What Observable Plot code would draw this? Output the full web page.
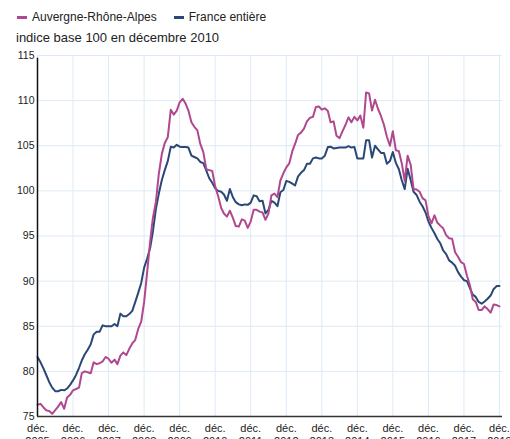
<!DOCTYPE html>
<html>
<head>
<meta charset="utf-8">
<script src="https://cdn.jsdelivr.net/npm/d3@7"></script>
<script src="https://cdn.jsdelivr.net/npm/@observablehq/plot@0.6"></script>
<style>
  body { margin: 0; background: #fff; font-family: "Liberation Sans", Arial, sans-serif; width: 510px; height: 439px; overflow: hidden; position: relative; }
  .legend { position: absolute; left: 17px; top: 10px; font-size: 12px; color: #222; display: flex; gap: 0; white-space: nowrap; }
  .legend .item { display: flex; align-items: center; }
  .legend .sw { display: inline-block; width: 10px; height: 3px; margin-right: 5px; }
  .sub { position: absolute; left: 16px; top: 30px; font-size: 13px; color: #222; white-space: nowrap; }
  #chart { position: absolute; left: 0; top: 48px; }
</style>
</head>
<body>
<div class="legend" id="legend"></div>
<div class="sub">indice base 100 en décembre 2010</div>
<div id="chart"></div>
<script>
// Series names and colours
const seriesNames = ["Auvergne-Rhône-Alpes", "France entière"];
const seriesColors = ["#b0488f", "#2a4775"];

// Monthly values, déc. 2005 to déc. 2018
const auvergne = [
  76.3, 76.4, 76.0, 75.7, 75.6, 75.3, 75.7, 76.1, 76.6, 75.85, 77.1, 77.4,
  77.9, 78.05, 78.2, 79.8, 80.0, 79.9, 79.8, 81.0, 80.8, 80.9, 81.1, 81.6,
  81.4, 80.95, 81.3, 80.8, 81.75, 82.1, 81.8, 82.5, 83.1, 83.5, 84.7, 85.5,
  87.7, 91.0, 94.4, 97.0, 98.8, 101.9, 104.1, 105.3, 105.95, 109.0, 108.45, 108.9,
  109.8, 110.2, 109.65, 108.9, 107.6, 107.1, 106.7, 105.2, 104.3, 102.4, 102.3, 102.2,
  100.5, 99.4, 98.1, 97.5, 97.15, 97.8, 97.0, 96.1, 96.05, 96.85, 96.7, 95.9,
  96.6, 97.9, 97.9, 97.7, 97.6, 96.8, 97.5, 99.5, 99.7, 99.3, 101.15, 101.95,
  102.6, 103.05, 104.4, 105.2, 106.2, 106.45, 106.9, 107.7, 108.1, 108.2, 109.3, 109.35,
  109.0, 109.15, 108.85, 107.6, 107.7, 106.1, 105.85, 106.6, 107.3, 108.15, 107.6, 108.2,
  107.8, 108.35, 107.0, 110.9, 110.8, 108.9, 110.1, 109.1, 108.3, 107.3, 106.0, 105.0,
  106.6, 104.5, 104.4, 103.1, 101.1, 103.9, 102.9, 100.2, 100.15, 99.9, 99.2, 98.95,
  97.2, 96.4, 97.3, 96.5, 96.15, 95.85, 95.1, 94.75, 94.7, 93.2, 92.7, 92.1,
  91.9, 90.6, 89.5, 88.0, 87.7, 86.8, 86.8, 87.2, 86.9, 86.5, 87.4, 87.35,
  87.2
];
const france = [
  81.6, 81.0, 80.3, 79.6, 78.8, 78.2, 77.8, 77.8, 77.95, 77.9, 78.1, 78.5,
  79.0, 79.6, 80.4, 81.2, 81.9, 82.4, 83.0, 84.1, 84.4, 84.4, 85.1, 85.0,
  85.0, 85.0, 85.25, 85.0, 86.4, 86.1, 86.1, 86.35, 86.7, 87.7, 88.7, 89.8,
  91.5, 92.5, 93.7, 95.5, 98.0, 99.7, 101.2, 102.3, 103.3, 104.9, 104.8, 105.1,
  104.9, 104.85, 104.85, 104.8, 103.9, 103.75, 103.6, 103.2, 103.07, 102.25, 101.4, 100.9,
  100.3, 100.0, 99.9, 99.6, 98.9, 100.2, 99.3, 98.75, 98.5, 98.4, 98.5, 98.45,
  98.7, 99.5, 99.4, 98.85, 98.9, 97.5, 97.9, 98.9, 98.7, 98.3, 99.85, 100.1,
  101.1, 101.0, 100.8, 100.6, 101.6, 102.0, 102.3, 103.0, 103.0, 103.6, 103.7, 103.6,
  103.6, 103.9, 104.85, 104.9, 104.7, 104.75, 104.8, 104.8, 104.8, 104.95, 104.8, 104.85,
  103.6, 103.6, 103.6, 105.6, 105.6, 103.7, 105.0, 104.6, 104.2, 104.2, 103.0, 103.3,
  104.3, 103.1, 102.4, 101.2, 100.2, 102.45, 101.2, 99.9, 99.55, 98.8, 98.3, 97.6,
  96.6, 95.9, 95.3, 94.7, 94.2, 93.4, 93.0, 92.3, 92.05, 91.7, 91.0, 90.5,
  90.1, 90.0, 89.2, 88.5, 88.25, 87.7, 87.5, 87.75, 88.05, 88.4, 89.1, 89.45,
  89.45
];

// Axis tick labels (décembre of each year)
const tickYears = [2005, 2006, 2007, 2008, 2009, 2010, 2011, 2012, 2013, 2014, 2015, 2016, 2017, 2018];
const yTicks = [75, 80, 85, 90, 95, 100, 105, 110, 115];

const months = d3.utcMonth.range(new Date(Date.UTC(2005, 11, 1)), new Date(Date.UTC(2019, 0, 1)));
const data = [];
months.forEach((d, i) => {
  data.push({date: d, value: auvergne[i], serie: seriesNames[0]});
  data.push({date: d, value: france[i], serie: seriesNames[1]});
});
const tickDates = tickYears.map(y => new Date(Date.UTC(y, 11, 1)));

// legend
const leg = document.getElementById("legend");
seriesNames.forEach((n, i) => {
  const it = document.createElement("span");
  it.className = "item";
  it.style.marginRight = i === 0 ? "17px" : "0";
  it.innerHTML = `<span class="sw" style="background:${seriesColors[i]}"></span>${n}`;
  leg.appendChild(it);
});

const chart = Plot.plot({
  width: 510,
  height: 400,
  marginTop: 7,
  marginLeft: 37,
  marginRight: 8,
  marginBottom: 32,
  style: {fontFamily: "'Liberation Sans', Arial, sans-serif", fontSize: "10.5px", color: "#222", background: "#fff"},
  x: {type: "utc", domain: [new Date(Date.UTC(2005, 11, 1)), new Date(Date.UTC(2019, 0, 1))]},
  y: {domain: [75, 115]},
  color: {domain: seriesNames, range: seriesColors},
  marks: [
    Plot.gridX(tickDates, {stroke: "#dde9f6", strokeOpacity: 1}),
    Plot.gridY(yTicks, {stroke: "#dde9f6", strokeOpacity: 1}),
    Plot.axisY(yTicks, {tickSize: 0, tickPadding: 3, label: null, fontSize: 10.5}),
    Plot.axisX(tickDates, {tickSize: 0, tickPadding: 6, label: null, fontSize: 11, lineHeight: 1.2,
      tickFormat: d => `déc.\n${d.getUTCFullYear()}`}),
    Plot.line(data.filter(d => d.serie === seriesNames[1]), {x: "date", y: "value", stroke: "serie", strokeWidth: 2}),
    Plot.line(data.filter(d => d.serie === seriesNames[0]), {x: "date", y: "value", stroke: "serie", strokeWidth: 2}),
    Plot.ruleY([75], {stroke: "#333", strokeWidth: 1.5}),
    Plot.ruleX([new Date(Date.UTC(2005, 11, 1))], {y1: 75, y2: 114.7, stroke: "#111", strokeWidth: 1.5})
  ]
});
document.getElementById("chart").appendChild(chart);
</script>
</body>
</html>
